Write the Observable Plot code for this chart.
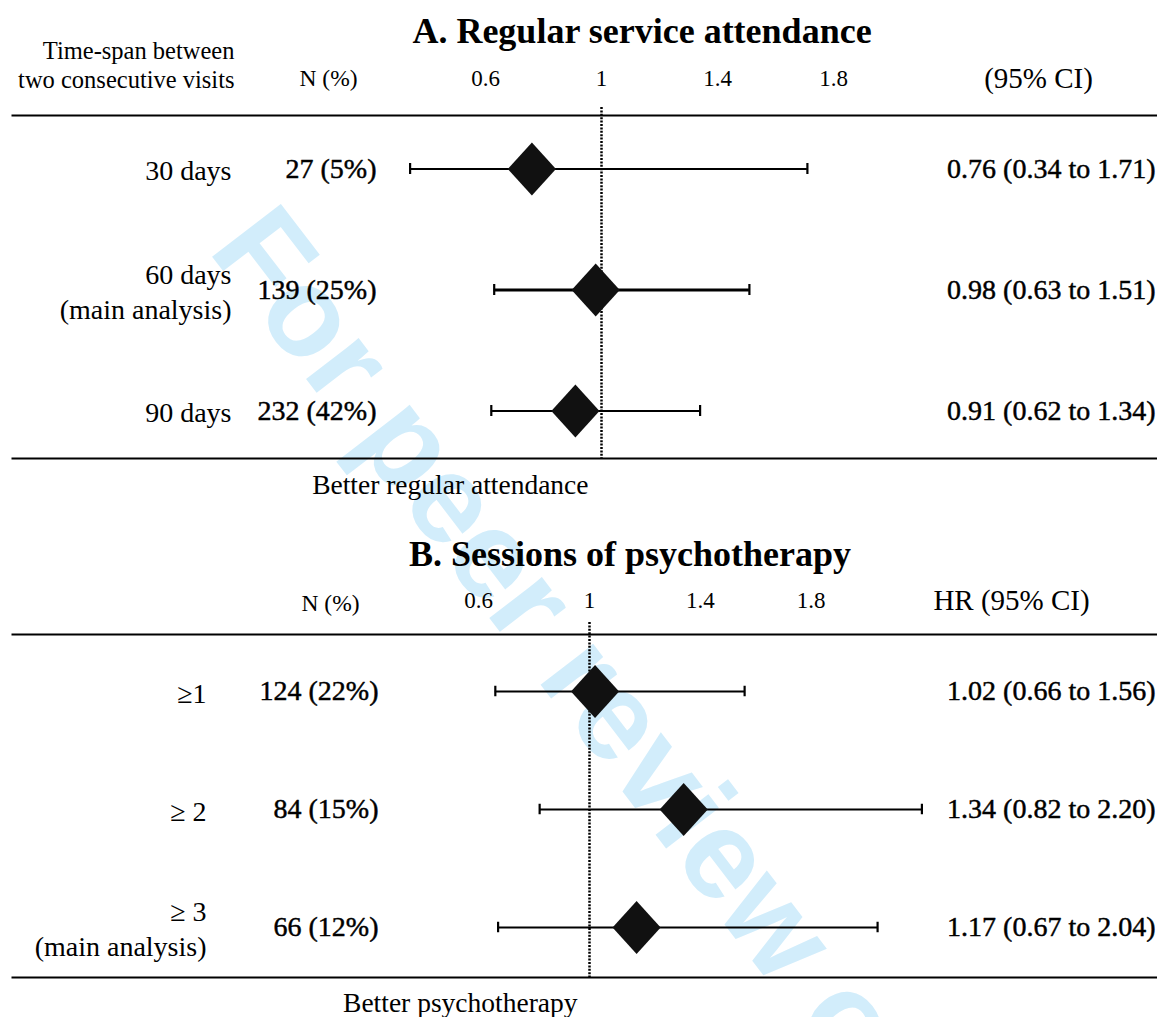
<!DOCTYPE html>
<html><head><meta charset="utf-8">
<script src="https://cdn.jsdelivr.net/npm/d3@7"></script>
<script src="https://cdn.jsdelivr.net/npm/@observablehq/plot@0.6"></script>
<style>
body{margin:0;background:#fff;}
#wrap{position:relative;width:1157px;height:1017px;overflow:hidden;font-family:"Liberation Serif","Times New Roman",serif;}
.title{position:absolute;font-weight:bold;font-size:36px;white-space:nowrap;color:#000;line-height:1;transform:translate(-50%,-50%);}
.panel{position:absolute;left:0;}
#wm{position:absolute;left:0;top:0;}
</style></head><body>
<div id="wrap">
<svg id="wm" width="1157" height="1017"><text x="207" y="250" transform="rotate(52.5 207 250)" font-family="Liberation Sans, Arial, sans-serif" font-weight="bold" font-size="126" fill="#d2edfb">For peer review only</text></svg>
<div id="panelA" class="panel" style="top:0px"></div>
<div id="panelB" class="panel" style="top:505px"></div>
<div class="title" style="left:642px;top:31px">A. Regular service attendance</div>
<div class="title" style="left:630px;top:554px">B. Sessions of psychotherapy</div>
</div>
<script>
// ---- data ----
const groupsA = ["30 days", "60 days\n(main analysis)", "90 days"];
const nA = ["27 (5%)", "139 (25%)", "232 (42%)"];
const hrA = [0.76, 0.98, 0.91];
const lowA = [0.34, 0.63, 0.62];
const highA = [1.71, 1.51, 1.34];

const groupsB = ["\u22651", "\u2265 2", "\u2265 3\n(main analysis)"];
const nB = ["124 (22%)", "84 (15%)", "66 (12%)"];
const hrB = [1.02, 1.34, 1.17];
const lowB = [0.66, 0.82, 0.67];
const highB = [1.56, 2.20, 2.04];

const tickValues = [0.6, 1, 1.4, 1.8];

// custom diamond (slightly taller than wide)
const diamond = {
  draw(ctx, size) {
    const s = Math.sqrt(size / Math.PI);
    ctx.moveTo(0, -s * 1.18);
    ctx.lineTo(s * 1.07, 0);
    ctx.lineTo(0, s * 1.18);
    ctx.lineTo(-s * 1.07, 0);
    ctx.closePath();
  }
};

const fmt = v => v.toFixed(2);

function panel(cfg) {
  const rows = cfg.groups.map((g, i) => ({
    group: g, n: cfg.n[i], hr: cfg.hr[i], lo: cfg.low[i], hi: cfg.high[i],
    label: `${fmt(cfg.hr[i])} (${fmt(cfg.low[i])} to ${fmt(cfg.high[i])})`
  }));
  const step = (cfg.yRange[1] - cfg.yRange[0]) / rows.length;
  const capInset = (step - 11) / 2;
  const ml = 12;
  const heavy = {fill: "#000", stroke: "#000", strokeWidth: 0.45};
  return Plot.plot({
    width: 1157,
    height: cfg.height,
    marginTop: cfg.marginTop,
    marginBottom: cfg.marginBottom,
    marginLeft: ml,
    marginRight: 0,
    style: {background: "transparent", fontFamily: "'Liberation Serif','Times New Roman',serif", color: "#000", overflow: "visible"},
    x: {domain: [0.6, 1.8], range: cfg.xRange, axis: null},
    y: {type: "band", domain: cfg.groups, range: cfg.yRange, padding: 0, axis: null},
    marks: [
      Plot.frame({anchor: "top", strokeWidth: 2}),
      Plot.frame({anchor: "bottom", strokeWidth: 2}),
      Plot.axisX({anchor: "top", ticks: tickValues, tickFormat: d => String(d), tickSize: 0, tickPadding: cfg.tickPadding, fontSize: 23}),
      // header texts
      ...(cfg.colHeader ? [Plot.text([cfg.colHeader], {frameAnchor: "top-left", lineAnchor: "middle", dx: cfg.colHeaderX - ml, dy: cfg.colHeaderY - cfg.marginTop, textAnchor: "end", fontSize: 24.5, lineHeight: 1.15})] : []),
      Plot.text(["N (%)"], {frameAnchor: "top-left", lineAnchor: "middle", dx: cfg.nHeaderX - ml, dy: cfg.nHeaderY - cfg.marginTop, textAnchor: "middle", fontSize: 23.5}),
      Plot.text([cfg.ciHeader], {frameAnchor: "top-left", lineAnchor: "middle", dx: cfg.ciHeaderX - ml, dy: cfg.ciHeaderY - cfg.marginTop, textAnchor: "middle", fontSize: 29}),
      // null line
      Plot.ruleX([1], {x: d => d, strokeWidth: 2.5, strokeDasharray: "2,1.4", insetTop: -cfg.dotExtend}),
      // confidence intervals
      Plot.ruleY(rows, {y: "group", x1: "lo", x2: "hi", strokeWidth: (d, i) => cfg.thick === i ? 3 : 2.2}),
      Plot.tickX(rows, {x: "lo", y: "group", strokeWidth: 2.2, insetTop: capInset, insetBottom: capInset}),
      Plot.tickX(rows, {x: "hi", y: "group", strokeWidth: 2.2, insetTop: capInset, insetBottom: capInset}),
      Plot.dot(rows, {x: "hr", y: "group", r: 22.5, symbol: diamond, fill: "#111", stroke: null}),
      // table columns
      Plot.text(rows, {y: "group", text: "group", frameAnchor: "left", lineAnchor: "middle", dx: cfg.labelRight - ml, textAnchor: "end", fontSize: 28, lineHeight: 1.25}),
      Plot.text(rows, {y: "group", text: "n", frameAnchor: "left", lineAnchor: "middle", dx: cfg.nRight - ml, textAnchor: "end", fontSize: 28, ...heavy}),
      Plot.text(rows, {y: "group", text: "label", frameAnchor: "right", lineAnchor: "middle", dx: -2, textAnchor: "end", fontSize: 28, ...heavy}),
      // footer
      Plot.text([cfg.footer], {x: () => 1, frameAnchor: "bottom", lineAnchor: "middle", dx: cfg.footerDx, dy: cfg.footerDy, textAnchor: "end", fontSize: 27.5})
    ]
  });
}

document.getElementById("panelA").append(panel({
  groups: groupsA, n: nA, hr: hrA, low: lowA, high: highA,
  height: 505, marginTop: 115, marginBottom: 47,
  yRange: [107.5, 470.5], xRange: [485, 833],
  tickPadding: 30,
  colHeader: "Time-span between\ntwo consecutive visits", colHeaderX: 234, colHeaderY: 64,
  nHeaderX: 328, nHeaderY: 78,
  ciHeader: "(95% CI)", ciHeaderX: 1038, ciHeaderY: 78,
  dotExtend: 8, thick: 1,
  labelRight: 231, nRight: 376,
  footer: "Better regular attendance", footerDx: -13, footerDy: 27
}));

document.getElementById("panelB").append(panel({
  groups: groupsB, n: nB, hr: hrB, low: lowB, high: highB,
  height: 512, marginTop: 129, marginBottom: 40,
  yRange: [125.75, 481.25], xRange: [478.2, 810.6],
  tickPadding: 27,
  colHeader: null,
  nHeaderX: 330, nHeaderY: 98,
  ciHeader: "HR (95% CI)", ciHeaderX: 1011, ciHeaderY: 95,
  dotExtend: 12, thick: -1,
  labelRight: 206, nRight: 378,
  footer: "Better psychotherapy", footerDx: -12, footerDy: 26
}));
</script>
</body></html>
